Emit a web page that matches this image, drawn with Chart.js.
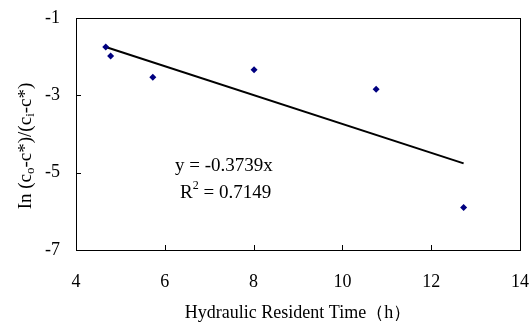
<!DOCTYPE html>
<html lang="en">
<head>
  <meta charset="UTF-8" />
  <title>ln ratio vs hydraulic resident time</title>
  <script src="https://cdn.jsdelivr.net/npm/chart.js"></script>
  <style>
    html, body { margin: 0; padding: 0; background: #fff; }
    #wrap { width: 531px; height: 324px; }
  </style>
</head>
<body>
  <div id="wrap"><canvas id="grafico"></canvas></div>

  <script>
    // data
    const tiempo = [4.67, 4.78, 5.73, 8.01, 10.76, 12.73];
    const lnRatio = [-1.75, -1.98, -2.53, -2.34, -2.84, -5.90];
    const tendX = [4.67, 12.73];
    const tendY = [-1.75, -4.76];
    const xTicks = [4, 6, 8, 10, 12, 14];
    const yTicks = [-1, -3, -5, -7];
    const ecuacion = 'y = -0.3739x';
    const r2Texto = ' = 0.7149';

    const serif = '"Liberation Serif", "Times New Roman", serif';

    // box, inward ticks, equation and y title with subscripts
    const extras = {
      id: 'extras',
      afterDraw(chart) {
        const { ctx, chartArea: a, scales } = chart;
        const sx = scales.x, sy = scales.y;
        ctx.save();
        ctx.strokeStyle = '#000';
        ctx.lineWidth = 1;
        ctx.strokeRect(Math.round(a.left) + 0.5, Math.round(a.top) + 0.5,
          Math.round(a.right - a.left), Math.round(a.bottom - a.top));

        ctx.beginPath();
        xTicks.slice(1, -1).forEach(v => {
          const px = Math.round(sx.getPixelForValue(v)) + 0.5;
          ctx.moveTo(px, a.bottom);
          ctx.lineTo(px, a.bottom - 5);
        });
        yTicks.slice(1, -1).forEach(v => {
          const py = Math.round(sy.getPixelForValue(v)) + 0.5;
          ctx.moveTo(a.left, py);
          ctx.lineTo(a.left + 5, py);
        });
        ctx.stroke();

        // equation
        ctx.fillStyle = '#000';
        ctx.font = '19px ' + serif;
        ctx.textBaseline = 'alphabetic';
        ctx.textAlign = 'left';
        ctx.fillText(ecuacion, 175, 171);
        ctx.fillText('R', 180, 198);
        const rw = ctx.measureText('R').width;
        ctx.font = '12px ' + serif;
        ctx.fillText('2', 180 + rw, 189);
        const sw = ctx.measureText('2').width;
        ctx.font = '19px ' + serif;
        ctx.fillText(r2Texto, 180 + rw + sw, 198);

        // y title
        const partes = [
          ['In (c', false], ['o', true], ['-c*)/(c', false], ['i', true], ['-c*)', false]
        ];
        let total = 0;
        partes.forEach(([t, sub]) => {
          ctx.font = (sub ? '13px ' : '19px ') + serif;
          total += ctx.measureText(t).width;
        });
        ctx.translate(26, (a.top + a.bottom) / 2 + 12);
        ctx.rotate(-Math.PI / 2);
        ctx.textBaseline = 'middle';
        let x = -total / 2;
        partes.forEach(([t, sub]) => {
          ctx.font = (sub ? '13px ' : '19px ') + serif;
          ctx.fillText(t, x, sub ? 5 : 0);
          x += ctx.measureText(t).width;
        });
        ctx.restore();
      }
    };

    const ctx = document.getElementById('grafico').getContext('2d');
    new Chart(ctx, {
      type: 'scatter',
      data: {
        datasets: [
          {
            label: 'datos',
            data: tiempo.map((t, i) => ({ x: t, y: lnRatio[i] })),
            pointStyle: 'rectRot',
            pointRadius: 3.5,
            backgroundColor: '#000080',
            borderColor: '#000080',
            borderWidth: 0
          },
          {
            label: 'tendencia',
            type: 'line',
            data: tendX.map((t, i) => ({ x: t, y: tendY[i] })),
            borderColor: '#000',
            borderWidth: 2,
            pointRadius: 0,
            fill: false
          }
        ]
      },
      options: {
        responsive: true,
        maintainAspectRatio: false,
        animation: false,
        events: [],
        layout: { padding: { left: 0, right: 11, top: 18, bottom: 0 } },
        plugins: {
          legend: { display: false },
          tooltip: { enabled: false }
        },
        scales: {
          x: {
            type: 'linear',
            min: 4,
            max: 14,
            afterBuildTicks: s => { s.ticks = xTicks.map(v => ({ value: v })); },
            afterFit: s => { s.height = 74; s.paddingLeft = 0; s.paddingRight = 0; },
            grid: { display: false, drawTicks: false },
            border: { display: false },
            ticks: { color: '#000', font: { family: serif, size: 18 }, padding: 21, maxRotation: 0 },
            title: {
              display: true,
              text: 'Hydraulic Resident Time（h）',
              color: '#000',
              font: { family: serif, size: 18 },
              padding: { top: 0, bottom: 0 }
            }
          },
          y: {
            type: 'linear',
            min: -7,
            max: -1,
            afterBuildTicks: s => { s.ticks = yTicks.map(v => ({ value: v })); },
            afterFit: s => { s.width = 76; s.paddingTop = 0; s.paddingBottom = 0; },
            grid: { display: false, drawTicks: false },
            border: { display: false },
            ticks: { color: '#000', font: { family: serif, size: 18 }, padding: 16 }
          }
        }
      },
      plugins: [extras]
    });
  </script>
</body>
</html>
